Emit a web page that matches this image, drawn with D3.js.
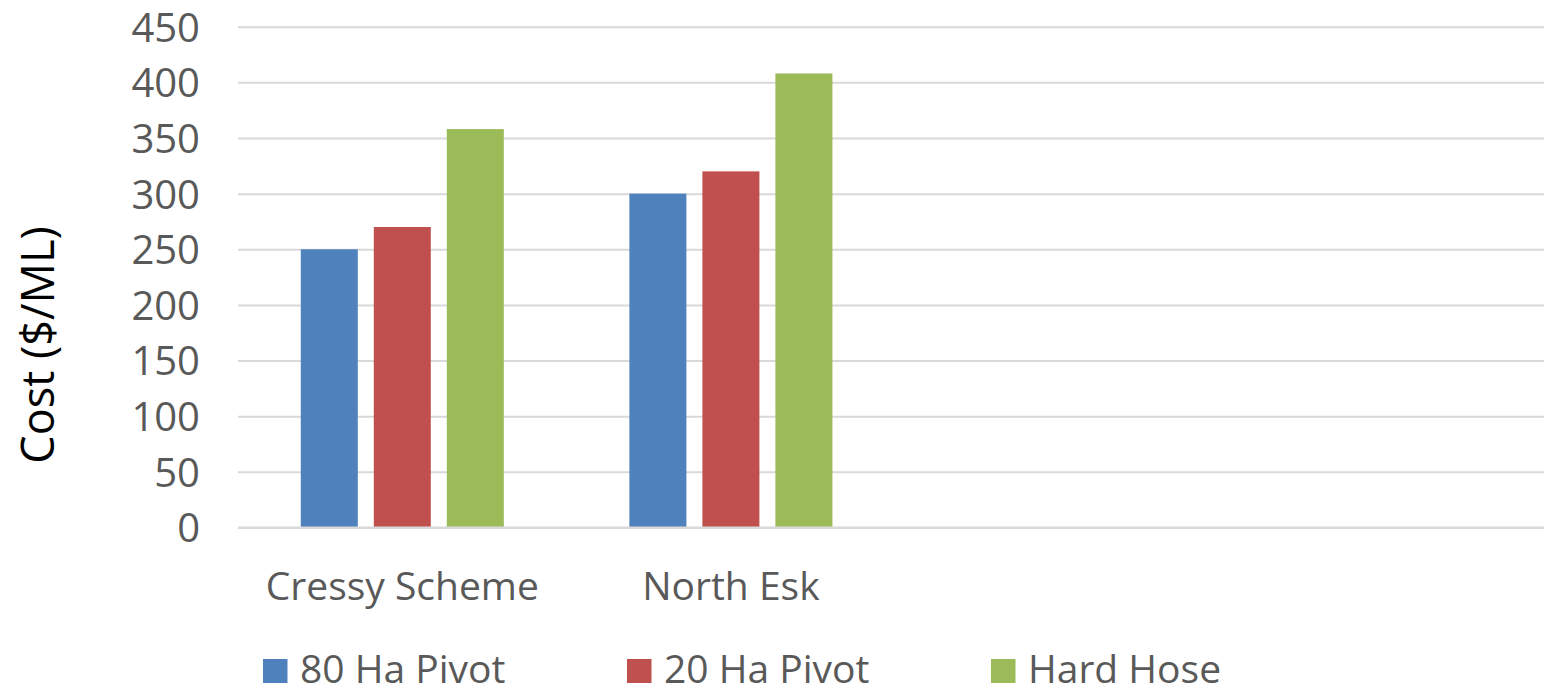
<!DOCTYPE html>
<html>
<head>
<meta charset="utf-8">
<script src="https://cdn.jsdelivr.net/npm/d3@7"></script>
<style>
  html, body { margin: 0; padding: 0; background: #fff; }
  svg { display: block; font-family: "Open Sans", sans-serif; }
</style>
</head>
<body>
<svg id="chart" width="1544" height="689"></svg>
<script>
(function () {
const categories = ["Cressy Scheme", "North Esk", " ", "  "];
const seriesNames = ["80 Ha Pivot", "20 Ha Pivot", "Hard Hose"];
const pivot80 = [250, 300, null, null];
const pivot20 = [270, 320, null, null];
const hardHose = [358, 408, null, null];
const yTicks = [0, 50, 100, 150, 200, 250, 300, 350, 400, 450];
const colors = ["#4F81BD", "#C0504D", "#9BBB59"];

const seriesValues = [pivot80, pivot20, hardHose];

const svg = d3.select("#chart");
const plotLeft = 238, plotRight = 1552.4, plotTop = 26.7, plotBottom = 527.5;

const x = d3.scaleBand().domain(categories).range([plotLeft, plotRight]).paddingInner(0).paddingOuter(0);
const xs = d3.scaleBand().domain(seriesNames).range([0, x.bandwidth()]).paddingInner(0.219).paddingOuter(0.86);
const y = d3.scaleLinear().domain([0, 450]).range([plotBottom, plotTop]);
const color = d3.scaleOrdinal().domain(seriesNames).range(colors);

// gridlines
const yAxis = d3.axisLeft(y).tickValues(yTicks).tickSize(-(1544 - plotLeft)).tickPadding(38);
const gy = svg.append("g").attr("transform", `translate(${plotLeft},0)`).call(yAxis);
gy.select(".domain").remove();
gy.selectAll(".tick line").attr("stroke", "#d9d9d9").attr("stroke-width", 2);
gy.selectAll(".tick text")
  .attr("fill", "#595959")
  .style("font-size", "40px")
  .style("font-family", "'Open Sans', sans-serif")
  .attr("dy", "0.36em");

// bars
const rows = [];
categories.forEach((c, i) => {
  seriesNames.forEach((s, j) => {
    const v = seriesValues[j][i];
    if (v != null) rows.push({ c, s, v });
  });
});
svg.append("g").selectAll("rect").data(rows).join("rect")
  .attr("x", d => x(d.c) + xs(d.s))
  .attr("width", xs.bandwidth())
  .attr("y", d => y(d.v))
  .attr("height", d => y(0) - y(d.v))
  .attr("fill", d => color(d.s));

// x axis
const xAxis = d3.axisBottom(x).tickSize(0).tickPadding(0);
const gx = svg.append("g").attr("transform", `translate(0,${plotBottom})`).call(xAxis);
gx.select(".domain").attr("stroke", "#d9d9d9").attr("stroke-width", 2)
  .attr("d", `M${plotLeft},0H1544`);
gx.selectAll(".tick text")
  .attr("fill", "#595959")
  .style("font-size", "39px")
  .style("font-family", "'Open Sans', sans-serif")
  .attr("y", 72)
  .attr("dy", 0);

// y title
svg.append("text")
  .attr("transform", "translate(54,345) rotate(-90)")
  .attr("text-anchor", "middle")
  .attr("fill", "#000")
  .style("font-size", "45px")
  .text("Cost ($/ML)");

// legend
const legendX = d3.scalePoint().domain(seriesNames).range([263, 991]);
const lg = svg.append("g").selectAll("g").data(seriesNames).join("g")
  .attr("transform", d => `translate(${legendX(d)},659)`);
lg.append("rect").attr("width", 24.5).attr("height", 24).attr("fill", d => color(d));
lg.append("text").attr("x", 37).attr("y", 24)
  .attr("fill", "#595959")
  .style("font-size", "39px")
  .text(d => d);
})();
</script>
</body>
</html>
